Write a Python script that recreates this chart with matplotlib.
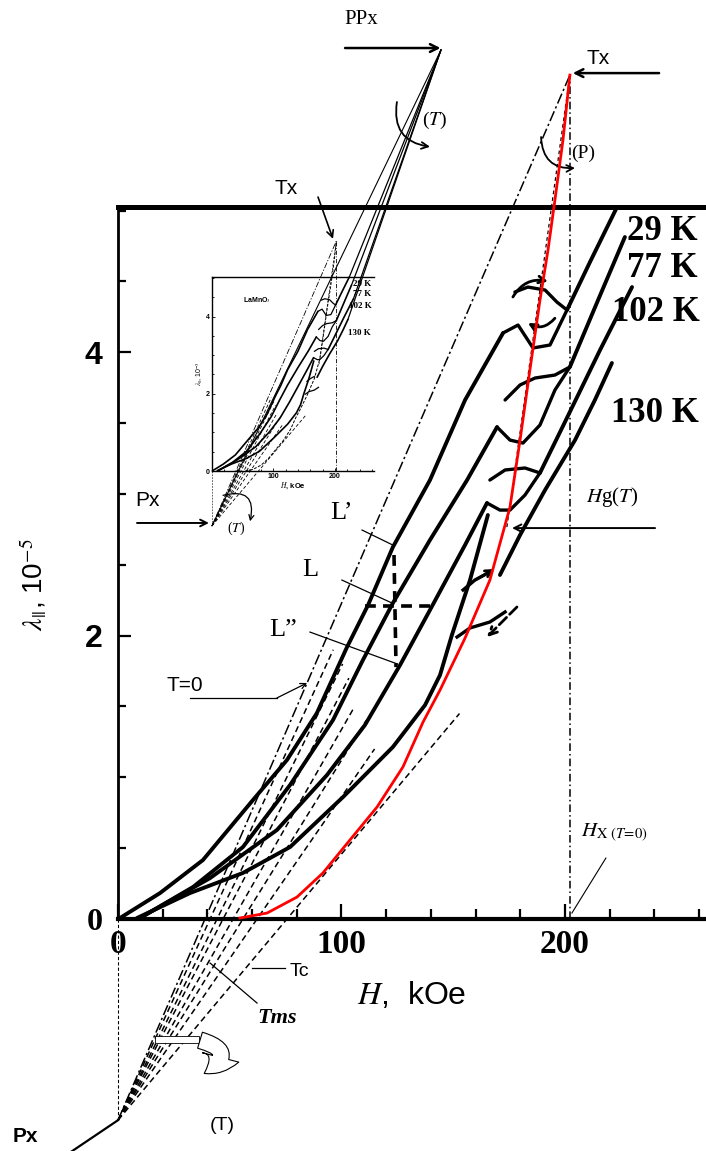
import matplotlib
matplotlib.use("Agg")
import matplotlib.pyplot as plt
from matplotlib.patches import FancyArrowPatch, Rectangle
from matplotlib.ticker import MultipleLocator

plt.rcParams['mathtext.fontset'] = 'stix'
plt.rcParams['font.family'] = ['Liberation Sans', 'DejaVu Sans']

# ---------------- data (H in kOe, lambda_|| in 1e-5) ----------------
# 29 K isotherm
h29_lo = [0.9, 18.8, 38.0, 60.4, 75.6, 89.0, 102.5, 111.9, 123.0, 139.6, 155.3, 172.3]
l29_lo = [0.007, 0.183, 0.416, 0.840, 1.122, 1.454, 1.920, 2.216, 2.625, 3.098, 3.663, 4.136]
h29_s = [172.3, 179.0, 185.7, 193.3, 200.9]
l29_s = [4.136, 4.192, 4.030, 4.051, 4.298]
h29_arc = [177.6, 183.4, 191.1, 196.4, 200.9]
l29_arc = [4.425, 4.460, 4.439, 4.354, 4.298]
h29_up = [200.9, 211.2, 223.3]
l29_up = [4.298, 4.637, 5.025]
# 77 K isotherm
h77_lo = [9.8, 33.6, 55.9, 77.0, 96.2, 109.6, 123.0, 139.6, 156.2, 169.6]
l77_lo = [0.007, 0.226, 0.508, 0.946, 1.404, 1.828, 2.230, 2.675, 3.098, 3.472]
h77_s = [169.6, 175.4, 181.2, 188.8, 195.5, 202.2]
l77_s = [3.472, 3.380, 3.359, 3.486, 3.733, 3.896]
h77_arc = [173.2, 179.9, 186.6, 195.5, 202.2]
l77_arc = [3.663, 3.769, 3.818, 3.839, 3.896]
h77_up = [202.2, 214.8, 226.8]
l77_up = [3.896, 4.368, 4.813]
# 102 K isotherm
h102_lo = [9.8, 41.2, 71.1, 93.5, 110.5, 126.2, 139.6, 155.3, 165.1]
l102_lo = [0.007, 0.289, 0.628, 1.016, 1.369, 1.792, 2.181, 2.640, 2.936]
h102_s = [165.1, 170.9, 175.4, 182.1, 188.8]
l102_s = [2.936, 2.886, 2.886, 2.992, 3.148]
h102_arc = [166.4, 173.2, 182.1, 188.8]
l102_arc = [3.098, 3.169, 3.183, 3.148]
h102_up = [188.8, 197.8, 215.7, 230.0]
l102_up = [3.148, 3.437, 4.016, 4.460]
# 130 K isotherm
h130_lo = [8.5, 32.2, 55.9, 77.0, 100.7, 123.0, 137.4, 144.1, 149.4, 157.5, 165.5]
l130_lo = [0.007, 0.183, 0.325, 0.508, 0.861, 1.214, 1.510, 1.722, 2.004, 2.392, 2.851]
h130_up = [170.9, 179.9, 191.1, 204.5, 213.4, 221.0]
l130_up = [2.428, 2.710, 3.028, 3.380, 3.663, 3.924]
# small hysteresis pieces near 130 K
hyA_h = [154.4, 159.7, 166.4]
hyA_l = [2.322, 2.392, 2.449]
hyB_h = [151.7, 157.5, 166.4, 173.2]
hyB_l = [1.990, 2.054, 2.096, 2.167]
# Hg(T) red curve
red_H = [54.6, 66.7, 80.1, 91.7, 103.8, 115.9, 127.5, 136.5, 144.1, 155.3,
         166.4, 175.4, 179.9, 184.3, 188.8, 192.4, 195.5, 199.1, 202.2]
red_L = [0.007, 0.042, 0.155, 0.325, 0.558, 0.790, 1.073, 1.390, 1.616, 1.983,
         2.392, 2.908, 3.380, 3.874, 4.368, 4.721, 5.074, 5.498, 5.956]
# special points
Px_H, Px_L = 0.0, -1.42
Tx_H, Tx_L = 202.2, 5.956
PPx_H, PPx_L = 144.5, 6.133
# dashed fan from Px (upper ends)
fan_end_H = [96.3, 100.5, 103.3, 105.9, 111.0, 114.8, 152.8]
fan_end_L = [1.90, 1.80, 1.70, 1.50, 1.40, 1.20, 1.45]
# dashed line next to Hg(T), ending at Tx
hgd_H = [174.0, 202.2]
hgd_L = [2.766, 5.956]
# isotherm labels
iso_labels = ['29 K', '77 K', '102 K', '130 K']
iso_lab_H = [243.4, 243.4, 240.7, 240.3]
iso_lab_L = [4.855, 4.594, 4.277, 3.571]
x_ticks = [0, 100, 200]
y_ticks = [0, 2, 4]

ISO = [(h29_lo, l29_lo, h29_s, l29_s, h29_arc, l29_arc, h29_up, l29_up),
       (h77_lo, l77_lo, h77_s, l77_s, h77_arc, l77_arc, h77_up, l77_up),
       (h102_lo, l102_lo, h102_s, l102_s, h102_arc, l102_arc, h102_up, l102_up),
       (h130_lo, l130_lo, None, None, None, None, h130_up, l130_up)]


def draw_core(a, lw, lwl, fan_lw, red_style):
    # dashed fan from Px and T=0 line
    for he, le in zip(fan_end_H, fan_end_L):
        a.plot([Px_H, he], [Px_L, le], color='k', lw=fan_lw, ls=(0, (4, 2.5)),
               clip_on=False, zorder=2)
    a.plot([Px_H, Tx_H], [Px_L, Tx_L], color='k', lw=fan_lw, ls=(0, (7, 2, 1.5, 2)),
           clip_on=False, zorder=2)
    a.plot(hgd_H, hgd_L, color='k', lw=fan_lw * 0.8, ls=(0, (3, 2.5)),
           clip_on=False, zorder=2)
    # Hx(T=0) vertical
    a.plot([Tx_H, Tx_H], [0.0, Tx_L], color='k', lw=fan_lw, ls=(0, (5, 2, 1, 2)),
           clip_on=False, zorder=2)
    # dashed continuation of the H = 0 axis down to Px
    a.plot([Px_H, Px_H], [0.0, Px_L], color='k', lw=fan_lw * 0.7, ls=(0, (3, 2)),
           clip_on=False, zorder=2)
    for (hl, ll, hs, ls_, ha, la, hu, lu) in ISO:
        a.plot(hl, ll, color='k', lw=lw, solid_capstyle='round', solid_joinstyle='round',
               clip_on=False, zorder=4)
        if hs is not None:
            a.plot(hs, ls_, color='k', lw=lwl, solid_capstyle='round',
                   solid_joinstyle='round', clip_on=False, zorder=4)
            a.plot(ha, la, color='k', lw=lwl, solid_capstyle='round',
                   solid_joinstyle='round', clip_on=False, zorder=4)
        a.plot(hu, lu, color='k', lw=lw, solid_capstyle='round', solid_joinstyle='round',
               clip_on=False, zorder=4)
    a.plot(hyA_h, hyA_l, color='k', lw=lwl, clip_on=False, zorder=4)
    a.plot(hyB_h, hyB_l, color='k', lw=lwl, clip_on=False, zorder=4)
    a.plot(red_H, red_L, clip_on=False, zorder=6, solid_joinstyle='round', **red_style)


fig = plt.figure(figsize=(7.06, 11.51), dpi=100)
fig.patch.set_facecolor('white')

# ---------------- main axes ----------------
ax = fig.add_axes([118 / 706, 232 / 1151, 588 / 706, 712 / 1151])
ax.patch.set_alpha(0)
ax.set_xlim(0, 263.1)
ax.set_ylim(0, 5.025)
ax.spines['right'].set_visible(False)
ax.spines['left'].set_linewidth(2.0)
ax.spines['top'].set_linewidth(3.6)
ax.spines['bottom'].set_linewidth(3.0)

ax.set_xticks(x_ticks)
ax.set_xticklabels([str(v) for v in x_ticks], fontfamily='Liberation Serif',
                   fontweight='bold', fontsize=24)
ax.xaxis.set_minor_locator(MultipleLocator(20))
ax.set_yticks(y_ticks)
ax.set_yticklabels([str(v) for v in y_ticks], fontweight='bold', fontsize=23)
ax.get_yticklabels()[0].set_fontfamily('Liberation Serif')
ax.yaxis.set_minor_locator(MultipleLocator(0.5))
ax.tick_params(axis='x', which='both', direction='in', top=False, width=1.6)
ax.tick_params(axis='x', which='major', length=11, pad=7)
ax.tick_params(axis='x', which='minor', length=7)
ax.tick_params(axis='y', which='both', direction='in', right=False, width=1.6)
ax.tick_params(axis='y', which='major', length=9, pad=11)
ax.tick_params(axis='y', which='minor', length=6)

ax.set_ylabel(r'$\lambda_{||}$, 10$^{-5}$', fontsize=20)
ax.yaxis.set_label_coords(-0.118, 0.47)
ax.set_xlabel(r'$H$,  kOe', fontsize=23)
ax.xaxis.set_label_coords(0.50, -0.086)

draw_core(ax, 2.8, 2.4, 1.1, dict(color='#ff0000', lw=2.0))

# isotherm labels
for s, hx, ly in zip(iso_labels, iso_lab_H, iso_lab_L):
    ax.text(hx, ly, s, fontfamily='Liberation Serif', fontweight='bold', fontsize=25,
            ha='center', va='center')

AP = dict(annotation_clip=False)
def arrow(a, p0, p1, style='->', lw=1.3, rad=0.0, ls='-', ms=15):
    a.annotate('', xy=p1, xytext=p0, **AP,
               arrowprops=dict(arrowstyle=style, lw=lw, color='k', linestyle=ls,
                               mutation_scale=ms, shrinkA=0, shrinkB=0,
                               connectionstyle=f'arc3,rad={rad}'))

# loop direction arrows
arrow(ax, (176.7, 4.39), (192.4, 4.50), lw=2.0, rad=-0.35, ms=12)
arrow(ax, (195.5, 4.24), (183.4, 4.206), lw=2.0, rad=-0.4, ms=12)
arrow(ax, (hyA_h[-2], hyA_l[-2]), (168.5, 2.47), lw=2.0, ms=12)
arrow(ax, (178.5, 2.202), (165.1, 1.990), lw=2.0, ls='--', ms=14)

# top annotations
ax.text(109.0, 6.35, 'PPx', fontfamily='Liberation Serif', fontsize=15, ha='center', va='center')
arrow(ax, (101.6, 6.147), (144.3, 6.147), lw=1.8, ms=14)
ax.text(214.8, 6.076, 'Tx', fontsize=15, ha='center', va='center')
arrow(ax, (242.1, 5.97), (203.5, 5.97), lw=1.8, ms=14)
ax.text(141.5, 5.639, r'($\mathit{T}$)', fontfamily='Liberation Serif', fontsize=14,
        ha='center', va='center')
arrow(ax, (124.8, 5.766), (139.6, 5.45), lw=1.3, rad=0.5, ms=12)
ax.text(208.2, 5.406, '(P)', fontfamily='Liberation Serif', fontsize=14, ha='center', va='center')
arrow(ax, (189.3, 5.519), (204.5, 5.30), lw=1.3, rad=0.5, ms=12)
ax.text(75.2, 5.159, 'Tx', fontsize=15, ha='center', va='center')
arrow(ax, (89.5, 5.095), (96.2, 4.80), lw=1.2, ms=12)

# Hg(T)
ax.text(221.0, 2.978, r'$H$g($T$)', fontfamily='Liberation Serif', fontsize=15,
        ha='center', va='center')
arrow(ax, (240.3, 2.759), (176.3, 2.759), lw=1.4, ms=13)
# Hx(T=0)
ax.text(222.0, 0.607, r'$H_{\mathrm{X}\ (T\!=\!0)}$', fontsize=15, ha='center', va='center')
ax.plot([218.3, 203.1], [0.43, 0.042], color='k', lw=0.8, clip_on=False)

# L labels and cross
for s, pos, p0, p1 in [('L\u2019', (100.2, 2.865), (109.2, 2.745), (123.0, 2.639)),
                       ('L', (85.9, 2.463), (100.2, 2.392), (122.6, 2.230)),
                       ('L\u201d', (73.8, 2.04), (85.9, 2.025), (125.0, 1.800))]:
    ax.text(pos[0], pos[1], s, fontfamily='Liberation Serif', fontsize=19,
            ha='center', va='center')
    ax.plot([p0[0], p1[0]], [p0[1], p1[1]], color='k', lw=0.9, clip_on=False, zorder=5)
ax.plot([123.5, 124.4], [2.569, 1.778], color='k', lw=2.6, ls=(0, (3, 2)), zorder=5)
ax.plot([110.5, 140.9], [2.209, 2.209], color='k', lw=2.6, ls=(0, (3, 2)), zorder=5)

# T=0 label
ax.text(30.0, 1.651, 'T=0', fontsize=15, ha='center', va='center')
ax.plot([32.2, 71.1], [1.56, 1.56], color='k', lw=0.9)
arrow(ax, (71.1, 1.56), (84.6, 1.666), lw=0.9, ms=10)

# below the axis
ax.text(76.6, -0.374, 'Tc', fontsize=14, ha='left', va='center')
ax.plot([60.0, 74.7], [-0.346, -0.346], color='k', lw=0.9, clip_on=False)
ax.text(71.1, -0.70, 'Tms', fontfamily='Liberation Serif', fontstyle='italic',
        fontweight='bold', fontsize=16, ha='center', va='center')
ax.plot([41.2, 62.2], [-0.311, -0.593], color='k', lw=0.9, clip_on=False)
ax.text(46.5, -1.454, '(T)', fontsize=14, ha='center', va='center')
ax.text(-41.6, -1.538, 'Px', fontsize=15, fontweight='bold', ha='center', va='center')
ax.plot([-24.0, Px_H], [-1.675, Px_L], color='k', lw=1.6, clip_on=False)
ax.add_patch(Rectangle((16.6, -0.878), 19.5, 0.055, facecolor='white', edgecolor='k',
                       lw=0.6, clip_on=False, zorder=7))
hollow = FancyArrowPatch((35.5, -0.85), (37.5, -1.10),
                         connectionstyle='arc3,rad=-1.2',
                         arrowstyle='simple,head_length=0.55,head_width=0.9,tail_width=0.4',
                         mutation_scale=30, facecolor='white', edgecolor='k', lw=0.8,
                         clip_on=False, zorder=7)
ax.add_patch(hollow)

# inset-level annotations (in main data coordinates)
ax.text(13.0, 2.957, 'Px', fontsize=15, ha='center', va='center')
arrow(ax, (8.5, 2.795), (40.7, 2.795), lw=1.4, ms=12)

# ---------------- inset ----------------
ins = fig.add_axes([212 / 706, 680 / 1151, 161.8 / 706, 194 / 1151])
ins.patch.set_alpha(0)
ins.set_xlim(0, 263.1)
ins.set_ylim(0, 5.025)
ins.spines['right'].set_visible(False)
for sp in ['left', 'top', 'bottom']:
    ins.spines[sp].set_linewidth(1.0)
ins.set_xticks([100, 200])
ins.set_xticklabels(['100', '200'], fontsize=5, fontweight='bold')
ins.xaxis.set_minor_locator(MultipleLocator(20))
ins.set_yticks(y_ticks)
ins.set_yticklabels([str(v) for v in y_ticks], fontsize=5, fontweight='bold')
ins.yaxis.set_minor_locator(MultipleLocator(0.5))
ins.tick_params(which='both', direction='in', top=False, right=False, width=0.6, pad=1.5)
ins.tick_params(which='major', length=2.5)
ins.tick_params(which='minor', length=1.5)
ins.set_xlabel(r'$H$, kOe', fontsize=5.5, fontweight='bold', labelpad=0.5)
ins.set_ylabel(r'$\lambda_{||}$, 10$^{-5}$', fontsize=5, labelpad=1)
ins.text(73.2, 4.44, r'LaMnO$_3$', fontsize=5, fontweight='bold', ha='center', va='center')
for s, hx, ly in zip(iso_labels, iso_lab_H, iso_lab_L):
    ins.text(hx, ly, s, fontfamily='Liberation Serif', fontweight='bold', fontsize=6.5,
             ha='center', va='center')

draw_core(ins, 1.2, 0.9, 0.6, dict(color='k', lw=0.7, ls=(0, (3, 1.5))))

# lines from inset isotherm ends to PPx
ppx_in = ins.transData.inverted().transform(ax.transData.transform((PPx_H, PPx_L)))
for iso in ISO:
    hu, lu = iso[6], iso[7]
    ins.plot([hu[-1], ppx_in[0]], [lu[-1], ppx_in[1]], color='k', lw=0.9, clip_on=False)
ins.plot([Px_H, ppx_in[0]], [Px_L, ppx_in[1]], color='k', lw=0.8, clip_on=False)

# (T) loop near inset Px
ax.text(53.0, 2.76, r'($\mathit{T}$)', fontfamily='Liberation Serif', fontsize=10,
        ha='center', va='center')
arrow(ax, (47.0, 2.99), (59.1, 2.807), lw=0.9, rad=-0.8, ms=9)

fig.savefig('out.png', dpi=100, facecolor='white')
